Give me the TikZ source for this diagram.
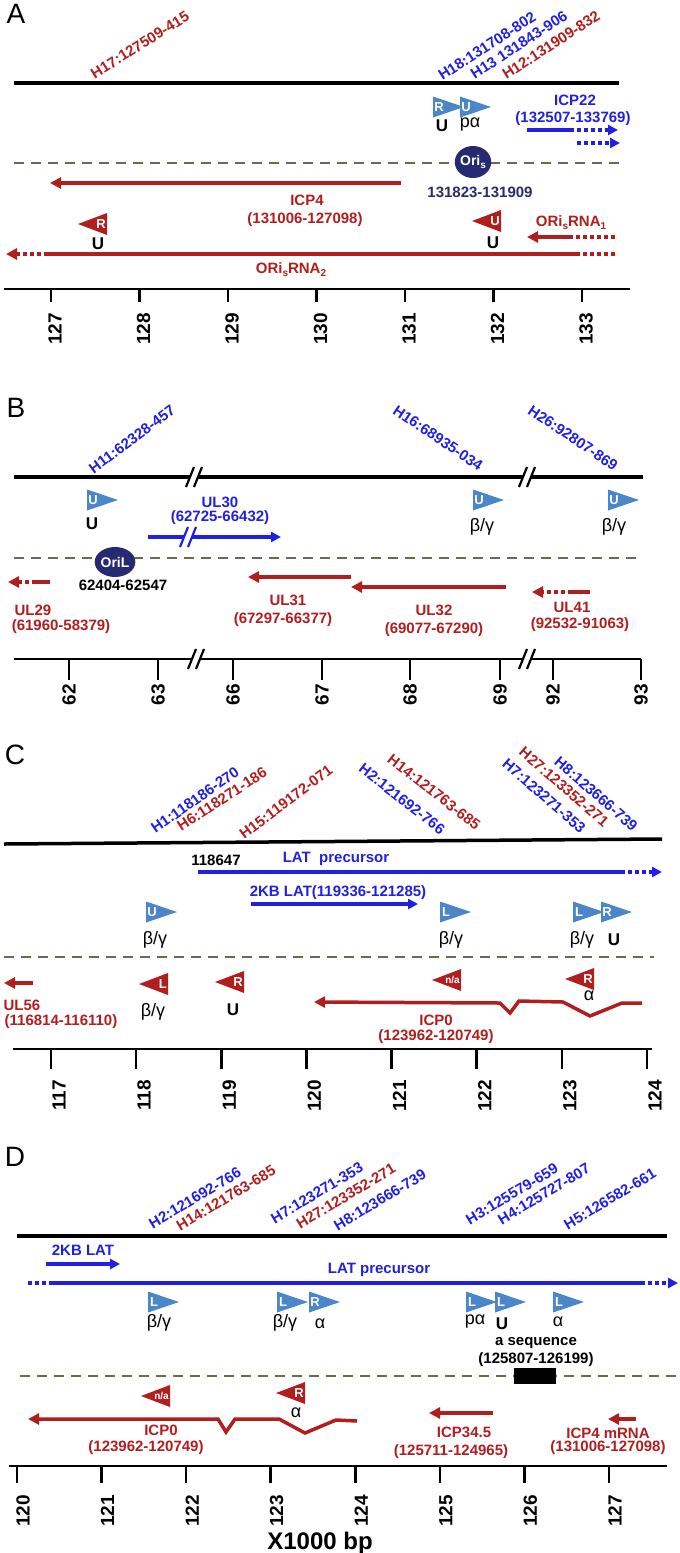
\documentclass[tikz,border=0pt]{standalone}
\usepackage{fontspec}
\setmainfont{Liberation Sans}
\usetikzlibrary{arrows.meta,shapes.geometric}
\definecolor{dred}{HTML}{B01E1E}
\definecolor{tblue}{HTML}{2020E0}
\definecolor{pblue}{HTML}{4A86C8}
\definecolor{navy}{HTML}{262A72}
\definecolor{olv}{HTML}{6B6B45}
\newcommand\fsz[1]{\fontsize{#1}{#1}\selectfont}
\newcommand\lowtxt[1]{\raisebox{-0.4ex}{\fsz{10}#1}}
% right-pointing promoter: left x, centre y, letter, name
\newcommand\promright[4]{%
  \fill[pblue] (#1,#2-10.5) -- (#1+31,#2) -- (#1,#2+10.5) -- cycle;
  \node[trilet] (#4) at (#1+6,#2) {#3};}
% left-pointing promoter: right x, centre y, letter, name
\newcommand\promleft[4]{%
  \fill[dred] (#1,#2-11) -- (#1-29,#2) -- (#1,#2+11) -- cycle;
  \node[trilet,anchor=east] (#4) at (#1-1,#2) {#3};}
% break mark: x, y, colour
\newcommand\brkmark[3]{%
  \fill[white] (#1-8,#2+10) -- (#1,#2-10) -- (#1+8,#2-10) -- (#1,#2+10) -- cycle;
  \draw[#3,line width=2.2pt] (#1-8,#2+10) -- (#1,#2-10) (#1,#2+10) -- (#1+8,#2-10);}
\begin{document}
\begin{tikzpicture}[x=1pt,y=-1pt,
  blkline/.style={line width=3.5pt},
  axline/.style={line width=2.5pt},
  tickln/.style={line width=2.5pt},
  olvdash/.style={draw=olv,line width=2.5pt,dash pattern=on 10pt off 7pt},
  rarr/.style={draw=dred,line width=4pt},
  barr/.style={draw=tblue,line width=3.5pt},
  dots/.style={dash pattern=on 4pt off 3pt},
  rtip/.style={-{Triangle[length=11pt,width=11pt]}},
  btip/.style={-{Triangle[length=10pt,width=10pt]}},
  lbl/.style={font=\fsz{15}\bfseries,inner sep=0pt},
  ulab/.style={font=\fsz{17}\bfseries,inner sep=0pt},
  rlbl/.style={lbl,text=dred},
  blbl/.style={lbl,text=tblue},
  nlbl/.style={lbl,text=navy},
  ang/.style={font=\fsz{15}\bfseries,inner sep=0pt},
  rang/.style={ang,text=dred},
  bang/.style={ang,text=tblue},
  grk/.style={font=\fsz{18},inner sep=0pt},
  tlab/.style={font=\fsz{19}\bfseries,rotate=90,anchor=east,inner sep=0pt},
  panel/.style={font=\fsz{28},inner sep=0pt},
  trilet/.style={font=\fsz{13}\bfseries,text=white,inner sep=0pt},
  orinode/.style={ellipse,fill=navy,text=white,font=\fsz{14}\bfseries,minimum width=36pt,minimum height=32pt,inner sep=0pt}
]
\useasboundingbox (0,0) rectangle (680,1553);

%================ Panel A
\node[panel] (pA) at (16,14) {A};
\coordinate (a1) at (14,83); \coordinate (a2) at (619,83);
\draw[blkline] (a1) -- (a2);
\node[rang,rotate=32] (h17) at (140,45) {H17:127509-415};
\node[bang,rotate=33] (h18) at (487,46) {H18:131708-802};
\node[bang,rotate=33] (h13) at (519,45) {H13 131843-906};
\node[rang,rotate=33] (h12) at (551,45) {H12:131909-832};
\promright{433}{107}{R}{pa1}
\promright{460}{107}{U}{pa2}
\node[ulab] (pa1l) at (442,126) {U};
\node[grk] (pa2l) at (470,125) {pα};
\node[blbl] (icp22n) at (575,100) {ICP22};
\node[blbl] (icp22c) at (573,119) {(132507-133769)};
\coordinate (i22a) at (527,130); \coordinate (i22b) at (570,130); \coordinate (i22c) at (618,130);
\draw[barr] (i22a) -- (i22b);
\draw[barr,dots,btip] (i22b) -- (i22c);
\coordinate (i22d) at (577,143); \coordinate (i22e) at (620,143);
\draw[barr,dots,btip] (i22d) -- (i22e);
\coordinate (da1) at (14,163); \coordinate (da2) at (625,163);
\draw[olvdash] (da1) -- (da2);
\node[orinode] (oris) at (473,162) {Ori\lowtxt{s}};
\node[nlbl] (orisc) at (480,192) {131823-131909};
\coordinate (icp4s) at (401,183); \coordinate (icp4e) at (50,183);
\draw[rarr,rtip] (icp4s) -- (icp4e);
\node[rlbl] (icp4n) at (307,200) {ICP4};
\node[rlbl] (icp4c) at (305,220) {(131006-127098)};
\promleft{107}{224}{R}{ma1}
\node[ulab] (ma1l) at (98,244) {U};
\promleft{501}{221}{U}{ma2}
\node[ulab] (ma2l) at (493,243) {U};
\node[rlbl] (orna1) at (571,223) {ORi\lowtxt{s}RNA\lowtxt{1}};
\coordinate (r1a) at (615,237); \coordinate (r1b) at (571,237); \coordinate (r1c) at (527,237);
\draw[rarr,dots] (r1a) -- (r1b);
\draw[rarr,rtip] (r1b) -- (r1c);
\coordinate (r2a) at (615,254); \coordinate (r2b) at (580,254); \coordinate (r2c) at (48,254); \coordinate (r2d) at (6,254);
\draw[rarr,dots] (r2a) -- (r2b);
\draw[rarr] (r2b) -- (r2c);
\draw[rarr,dots,rtip] (r2c) -- (r2d);
\node[rlbl] (orna2) at (291,270) {ORi\lowtxt{s}RNA\lowtxt{2}};
\coordinate (ax1) at (4,289); \coordinate (ax2) at (630,289);
\draw[axline] (ax1) -- (ax2);
\foreach \i in {0,...,6} {
  \pgfmathsetmacro\xx{51+88.5*\i}
  \pgfmathtruncatemacro\lab{127+\i}
  \draw[tickln] (\xx,289) -- (\xx,302);
  \node[tlab] (tla\i) at (\xx+4,313) {\lab};
}

%================ Panel B
\node[panel] (pB) at (16,408) {B};
\coordinate (b1) at (14,477); \coordinate (b2) at (643,477);
\draw[blkline] (b1) -- (b2);
\brkmark{194}{477}{black}
\brkmark{527}{477}{black}
\node[bang,rotate=37] (h11) at (132,439) {H11:62328-457};
\node[bang,rotate=-34] (h16) at (438,438) {H16:68935-034};
\node[bang,rotate=-34] (h26) at (573,438) {H26:92807-869};
\promright{87}{500}{U}{pb1}
\node[ulab] (pb1l) at (92,524) {U};
\promright{473}{500}{U}{pb2}
\node[grk] (pb2l) at (482,527) {β/γ};
\promright{608}{500}{U}{pb3}
\node[grk] (pb3l) at (614,527) {β/γ};
\node[blbl] (ul30n) at (220,502) {UL30};
\node[blbl] (ul30c) at (220,518) {(62725-66432)};
\coordinate (u30a) at (148,537); \coordinate (u30b) at (281,537);
\draw[barr,btip] (u30a) -- (u30b);
\brkmark{188}{537}{tblue}
\coordinate (db1) at (14,558); \coordinate (db2) at (640,558);
\draw[olvdash] (db1) -- (db2);
\node[orinode,minimum width=38pt,minimum height=30pt] (oril) at (115,562) {OriL};
\node[lbl] (orilc) at (123,585) {62404-62547};
\coordinate (u29a) at (50,582); \coordinate (u29b) at (36,582); \coordinate (u29c) at (8,582);
\draw[rarr] (u29a) -- (u29b);
\draw[rarr,dots,rtip] (u29b) -- (u29c);
\node[rlbl] (ul29n) at (33,610) {UL29};
\node[rlbl] (ul29c) at (61,627) {(61960-58379)};
\coordinate (u31a) at (351,577); \coordinate (u31b) at (248,577);
\draw[rarr,rtip] (u31a) -- (u31b);
\node[rlbl] (ul31n) at (288,600) {UL31};
\node[rlbl] (ul31c) at (283,620) {(67297-66377)};
\coordinate (u32a) at (506,587); \coordinate (u32b) at (351,587);
\draw[rarr,rtip] (u32a) -- (u32b);
\node[rlbl] (ul32n) at (434,610) {UL32};
\node[rlbl] (ul32c) at (434,630) {(69077-67290)};
\coordinate (u41a) at (590,592); \coordinate (u41b) at (572,592); \coordinate (u41c) at (532,592);
\draw[rarr] (u41a) -- (u41b);
\draw[rarr,dots,rtip] (u41b) -- (u41c);
\node[rlbl] (ul41n) at (572,607) {UL41};
\node[rlbl] (ul41c) at (580,625) {(92532-91063)};
\coordinate (bx1) at (14,659); \coordinate (bx2) at (641,659);
\draw[axline] (bx1) -- (bx2);
\brkmark{196}{659}{black}
\brkmark{527}{659}{black}
\foreach \xx/\lab [count=\k] in {69/62,158/63,233/66,322/67,410/68,500/69,553/92,641/93} {
  \draw[tickln] (\xx,659) -- (\xx,680);
  \node[tlab] (tlb\k) at (\xx,684) {\lab};
}

%================ Panel C
\node[panel] (pC) at (15,755) {C};
\coordinate (c1) at (4,844); \coordinate (c2) at (662,839);
\draw[blkline] (c1) -- (c2);
\node[bang,rotate=35] (ch1) at (195,800) {H1:118186-270};
\node[rang,rotate=33] (ch6) at (222,799) {H6:118271-186};
\node[rang,rotate=37] (ch15) at (286,802) {H15:119172-071};
\node[bang,rotate=-38] (ch2) at (402,799) {H2:121692-766};
\node[rang,rotate=-38] (ch14) at (434,792) {H14:121763-685};
\node[bang,rotate=-41] (ch7) at (544,796) {H7:123271-353};
\node[rang,rotate=-41] (ch27) at (564,787) {H27:123352-271};
\node[bang,rotate=-41] (ch8) at (596,794) {H8:123666-739};
\node[lbl] (c118) at (216,860) {118647};
\node[blbl] (clat) at (336,859) {LAT\ \ precursor};
\coordinate (cl1) at (198,872); \coordinate (cl2) at (621,872); \coordinate (cl3) at (662,872);
\draw[barr] (cl1) -- (cl2);
\draw[barr,dots,btip] (cl2) -- (cl3);
\node[blbl] (c2kb) at (338,893) {2KB LAT(119336-121285)};
\coordinate (ck1) at (251,904); \coordinate (ck2) at (418,904);
\draw[barr,btip] (ck1) -- (ck2);
\promright{146}{912}{U}{pc1}
\promright{440}{912}{L}{pc2}
\promright{573}{912}{L}{pc3}
\promright{601}{912}{R}{pc4}
\node[grk] (pc1l) at (155,940) {β/γ};
\node[grk] (pc2l) at (451,940) {β/γ};
\node[grk] (pc3l) at (582,940) {β/γ};
\node[ulab] (pc4l) at (614,940) {U};
\coordinate (dc1) at (4,957); \coordinate (dc2) at (654,957);
\draw[olvdash] (dc1) -- (dc2);
\coordinate (u56a) at (33,983); \coordinate (u56b) at (4,983);
\draw[rarr,rtip] (u56a) -- (u56b);
\node[rlbl] (ul56n) at (22,1005) {UL56};
\node[rlbl] (ul56c) at (61,1022) {(116814-116110)};
\promleft{168}{984}{L}{mc1}
\promleft{244}{982}{R}{mc2}
\promleft{461}{980}{\fsz{10}n/a}{mc3}
\promleft{594}{979}{R}{mc4}
\node[grk] (mc1l) at (153,1012) {β/γ};
\node[ulab] (mc2l) at (233,1010) {U};
\node[grk] (mc4l) at (589,996) {α};
\coordinate (z1) at (642,1003); \coordinate (z2) at (622,1003); \coordinate (z3) at (590,1016);
\coordinate (z4) at (563,1002); \coordinate (z5) at (519,1001); \coordinate (z6) at (510,1013);
\coordinate (z7) at (500,1003); \coordinate (z8) at (314,1002);
\draw[rarr,line width=3.5pt,rtip] (z1) -- (z2) -- (z3) -- (z4) -- (z5) -- (z6) -- (z7) -- (z8);
\node[rlbl] (cicp0n) at (436,1020) {ICP0};
\node[rlbl] (cicp0c) at (436,1037) {(123962-120749)};
\coordinate (cx1) at (13,1049); \coordinate (cx2) at (652,1049);
\draw[axline] (cx1) -- (cx2);
\foreach \i in {0,...,7} {
  \pgfmathsetmacro\xx{51+85.14*\i}
  \pgfmathtruncatemacro\lab{117+\i}
  \draw[tickln] (\xx,1049) -- (\xx,1069);
  \node[tlab] (tlc\i) at (\xx+8,1080) {\lab};
}

%================ Panel D
\node[panel] (pD) at (15,1157) {D};
\coordinate (d1) at (17,1236); \coordinate (d2) at (667,1236);
\draw[blkline] (d1) -- (d2);
\node[bang,rotate=31] (dh2) at (195,1198) {H2:121692-766};
\node[rang,rotate=31] (dh14) at (226,1198) {H14:121763-685};
\node[bang,rotate=31] (dh7) at (317,1193) {H7:123271-353};
\node[rang,rotate=31] (dh27) at (346,1196) {H27:123352-271};
\node[bang,rotate=31] (dh8) at (380,1200) {H8:123666-739};
\node[bang,rotate=31] (dh3) at (512,1194) {H3:125579-659};
\node[bang,rotate=31] (dh4) at (544,1194) {H4:125727-807};
\node[bang,rotate=31] (dh5) at (610,1199) {H5:126582-661};
\node[blbl] (d2kb) at (83,1250) {2KB LAT};
\coordinate (dk1) at (46,1264); \coordinate (dk2) at (120,1264);
\draw[barr,btip] (dk1) -- (dk2);
\node[blbl] (dlat) at (379,1270) {LAT precursor};
\coordinate (dl0) at (28,1283); \coordinate (dl1) at (52,1283); \coordinate (dl2) at (641,1283); \coordinate (dl3) at (678,1283);
\draw[barr,dots] (dl0) -- (dl1);
\draw[barr] (dl1) -- (dl2);
\draw[barr,dots,btip] (dl2) -- (dl3);
\promright{148}{1302}{L}{pd1}
\promright{277}{1302}{L}{pd2}
\promright{309}{1302}{R}{pd3}
\promright{466}{1302}{L}{pd4}
\promright{495}{1302}{L}{pd5}
\promright{553}{1302}{L}{pd6}
\node[grk] (pd1l) at (159,1323) {β/γ};
\node[grk] (pd2l) at (285,1323) {β/γ};
\node[grk] (pd3l) at (320,1324) {α};
\node[grk] (pd4l) at (475,1322) {pα};
\node[ulab] (pd5l) at (502,1324) {U};
\node[grk] (pd6l) at (558,1322) {α};
\node[lbl] (aseq) at (536,1343) {a sequence};
\node[lbl] (aseqc) at (536,1360) {(125807-126199)};
\coordinate (dd1) at (20,1376); \coordinate (dd2) at (680,1376);
\draw[olvdash] (dd1) -- (dd2);
\fill (514,1368) rectangle (556,1384);
\promleft{170}{1396}{\fsz{10}n/a}{md1}
\promleft{305}{1393}{R}{md2}
\node[grk] (md2l) at (296,1413) {α};
\coordinate (y1) at (357,1421); \coordinate (y2) at (336,1420); \coordinate (y3) at (305,1433);
\coordinate (y4) at (279,1419); \coordinate (y5) at (235,1419); \coordinate (y6) at (226,1432);
\coordinate (y7) at (218,1419); \coordinate (y8) at (28,1419);
\draw[rarr,line width=3.5pt,rtip] (y1) -- (y2) -- (y3) -- (y4) -- (y5) -- (y6) -- (y7) -- (y8);
\node[rlbl] (dicp0n) at (161,1430) {ICP0};
\node[rlbl] (dicp0c) at (146,1448) {(123962-120749)};
\coordinate (i34a) at (493,1413); \coordinate (i34b) at (429,1413);
\draw[rarr,rtip] (i34a) -- (i34b);
\node[rlbl] (i34n) at (464,1432) {ICP34.5};
\node[rlbl] (i34c) at (451,1452) {(125711-124965)};
\coordinate (i4a) at (636,1419); \coordinate (i4b) at (608,1419);
\draw[rarr,rtip] (i4a) -- (i4b);
\node[rlbl] (i4n) at (608,1433) {ICP4 mRNA};
\node[rlbl] (i4c) at (608,1448) {(131006-127098)};
\coordinate (dx1) at (9,1466); \coordinate (dx2) at (667,1466);
\draw[axline] (dx1) -- (dx2);
\foreach \i in {0,...,7} {
  \pgfmathsetmacro\xx{17+84.57*\i}
  \pgfmathtruncatemacro\lab{120+\i}
  \draw[tickln] (\xx,1466) -- (\xx,1483);
  \node[tlab] (tld\i) at (\xx+6,1495) {\lab};
}
\node[font=\fsz{24}\bfseries,inner sep=0pt] (xbp) at (320,1543) {X1000 bp};
\end{tikzpicture}
\end{document}
